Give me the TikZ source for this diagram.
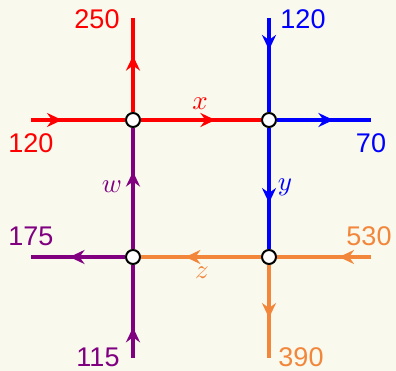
\documentclass[tikz,border=0pt]{standalone}
\usepackage{fontspec}
\setmainfont{Liberation Sans}
\usetikzlibrary{arrows.meta,decorations.markings}
\definecolor{bg}{RGB}{249,249,238}
\definecolor{cred}{RGB}{255,0,0}
\definecolor{cblue}{RGB}{0,0,255}
\definecolor{cpurple}{RGB}{128,0,128}
\definecolor{corange}{RGB}{242,135,60}
\begin{document}
\begin{tikzpicture}[x=1pt,y=-1pt,
  flow/.style={line width=3.8pt, postaction={decorate},
    decoration={markings, mark=at position #1 with {\arrow{Stealth[length=15pt,width=14pt,inset=5pt]}}}},
  junc/.style={circle, draw=black, fill=white, line width=2pt, minimum size=14pt, inner sep=0pt},
  num/.style={font=\fontsize{27}{30}\selectfont, inner sep=0pt},
  var/.style={scale=2.7, inner sep=0pt}]
\fill[bg] (0,0) rectangle (396,371);
\useasboundingbox (0,0) rectangle (396,371);
% junctions
\node[junc] (A) at (133,120) {};
\node[junc] (B) at (269,120) {};
\node[junc] (C) at (133,257) {};
\node[junc] (D) at (269,257) {};
% free ends
\coordinate (redin) at (31,120);
\coordinate (redout) at (133,18);
\coordinate (bluein) at (269,18);
\coordinate (blueout) at (371,120);
\coordinate (purout) at (31,257);
\coordinate (purin) at (133,358);
\coordinate (orin) at (371,257);
\coordinate (orout) at (269,358);
% flows
\draw[flow=0.33, cred] (redin) -- (A);
\draw[flow=0.6, cred] (A) -- (redout);
\draw[flow=0.62, cred] (A) -- (B);
\draw[flow=0.34, cblue] (bluein) -- (B);
\draw[flow=0.6, cblue] (B) -- (blueout);
\draw[flow=0.62, cblue] (B) -- (D);
\draw[flow=0.64, cpurple] (C) -- (A);
\draw[flow=0.59, cpurple] (C) -- (purout);
\draw[flow=0.33, cpurple] (purin) -- (C);
\draw[flow=0.63, corange] (D) -- (C);
\draw[flow=0.34, corange] (orin) -- (D);
\draw[flow=0.57, corange] (D) -- (orout);
% numbers
\node[num, text=cred] (n250) at (97,19) {250};
\node[num, text=cred] (n120a) at (31,143) {120};
\node[num, text=cblue] (n120b) at (303,19) {120};
\node[num, text=cblue] (n70) at (371,143) {70};
\node[num, text=cpurple] (n175) at (31,236) {175};
\node[num, text=cpurple] (n115) at (98,357) {115};
\node[num, text=corange] (n530) at (369,236) {530};
\node[num, text=corange] (n390) at (301,357) {390};
% variables
\node[var, text=cred] (lx) at (200,104) {$x$};
\node[var, text=cblue] (ly) at (285,187) {$y$};
\node[var, text=cpurple] (lw) at (112,187) {$w$};
\node[var, text=corange] (lz) at (202,273) {$z$};
\end{tikzpicture}
\end{document}
